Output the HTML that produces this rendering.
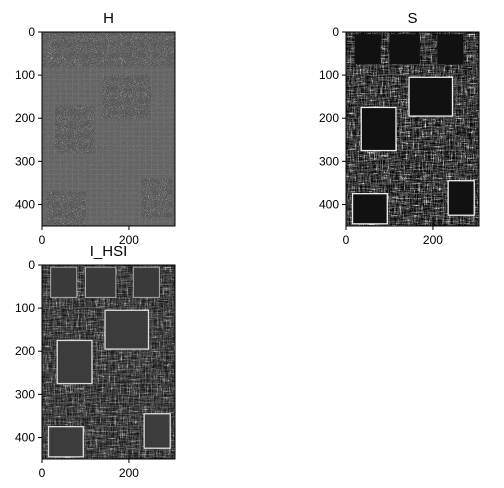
<!DOCTYPE html>
<html><head><meta charset="utf-8"><style>
body{margin:0;background:#fff;}
svg text{font-family:"Liberation Sans","DejaVu Sans",sans-serif;fill:#000;}
filter{color-interpolation-filters:sRGB;}
</style></head><body>
<svg id="fig" width="504" height="483" viewBox="0 0 504 483" xmlns="http://www.w3.org/2000/svg">
<defs>
<filter id="nz" x="0" y="0" width="100%" height="100%" color-interpolation-filters="sRGB">
<feTurbulence type="fractalNoise" baseFrequency="0.9" numOctaves="2" seed="3"/>
<feColorMatrix type="saturate" values="0"/>
<feComponentTransfer><feFuncR type="discrete" tableValues="0.2 0.25 0.3 0.35 0.55 1 1"/><feFuncG type="discrete" tableValues="0.2 0.25 0.3 0.35 0.55 1 1"/><feFuncB type="discrete" tableValues="0.2 0.25 0.3 0.35 0.55 1 1"/><feFuncA type="table" tableValues="1 1"/></feComponentTransfer>
</filter>
<filter id="nzH" x="0" y="0" width="100%" height="100%" color-interpolation-filters="sRGB">
<feTurbulence type="fractalNoise" baseFrequency="0.6" numOctaves="2" seed="11"/>
<feColorMatrix type="saturate" values="0"/>
<feComponentTransfer><feFuncR type="discrete" tableValues="0.2 0.3 0.36 0.4 0.42 0.5 0.8"/><feFuncG type="discrete" tableValues="0.2 0.3 0.36 0.4 0.42 0.5 0.8"/><feFuncB type="discrete" tableValues="0.2 0.3 0.36 0.4 0.42 0.5 0.8"/><feFuncA type="table" tableValues="1 1"/></feComponentTransfer>
</filter>
<filter id="lines" x="0" y="0" width="100%" height="100%" color-interpolation-filters="sRGB">
<feTurbulence type="fractalNoise" baseFrequency="0.04 0.5" numOctaves="2" seed="5" result="a"/>
<feTurbulence type="fractalNoise" baseFrequency="0.5 0.04" numOctaves="2" seed="9" result="b"/>
<feBlend in="a" in2="b" mode="lighten"/>
<feColorMatrix type="saturate" values="0"/>
<feComponentTransfer><feFuncR type="discrete" tableValues="0 0 0 0.05 0.3 0.8 1 1"/><feFuncG type="discrete" tableValues="0 0 0 0.05 0.3 0.8 1 1"/><feFuncB type="discrete" tableValues="0 0 0 0.05 0.3 0.8 1 1"/><feFuncA type="table" tableValues="1 1"/></feComponentTransfer>
</filter>
<pattern id="grid" width="14" height="11" patternUnits="userSpaceOnUse"><rect width="14" height="11" fill="none" stroke="#fff" stroke-width="1.2"/></pattern>
</defs>
<g id="panels"></g>
</svg>
<script>
const NS='http://www.w3.org/2000/svg';
const titles=['H','S','I_HSI'];
const xTicks=[0,200];
const yTicks=[0,100,200,300,400];
const imgW=306, imgH=450;
const boxes=[{l:42,t:32},{l:346,t:32},{l:42,t:265}];
const pw=133, ph=194;
const root=document.getElementById('panels');
function mk(tag,attrs,parent){const e=document.createElementNS(NS,tag);for(const k in attrs)e.setAttribute(k,attrs[k]);parent.appendChild(e);return e;}
const chips=[[140,100,110,100],[30,170,90,110],[10,370,90,80],[230,340,70,90]];
const topRow=[[20,5,60,70],[100,5,70,70],[210,5,60,70]];
boxes.forEach((b,i)=>{
  const g=mk('g',{},root);
  
  
  const sx=v=>b.l+v*pw/imgW, sy=v=>b.t+v*ph/imgH;
  const img=mk('svg',{x:b.l,y:b.t,width:pw,height:ph,viewBox:`0 0 ${imgW} ${imgH}`,preserveAspectRatio:'none'},g);
  
  
  if(i===0){
    mk('rect',{width:imgW,height:imgH,fill:'#666',filter:'url(#nzH)'},img);
    mk('rect',{width:imgW,height:imgH,fill:'url(#grid)',opacity:0.1},img);
    chips.concat([[0,0,306,80]]).forEach(c=>mk('rect',{x:c[0],y:c[1],width:c[2],height:c[3],fill:'#555',filter:'url(#nz)',opacity:0.8},img));
  } else if(i===1){
    mk('rect',{width:imgW,height:imgH,fill:'#000',filter:'url(#lines)'},img);
    mk('rect',{width:imgW,height:imgH,fill:'url(#grid)',opacity:0.2},img);
    chips.forEach(c=>mk('rect',{x:c[0]+5,y:c[1]+5,width:c[2]-10,height:c[3]-10,fill:'#111',stroke:'#eee','stroke-width':3},img));
    topRow.forEach(c=>mk('rect',{x:c[0],y:c[1],width:c[2],height:c[3],fill:'#111'},img));
  } else {
    mk('rect',{width:imgW,height:imgH,fill:'#000',filter:'url(#lines)'},img);
    mk('rect',{width:imgW,height:imgH,fill:'#444',opacity:0.3},img);
    mk('rect',{width:imgW,height:imgH,fill:'url(#grid)',opacity:0.2},img);
    chips.forEach(c=>mk('rect',{x:c[0]+5,y:c[1]+5,width:c[2]-10,height:c[3]-10,fill:'#3c3c3c',stroke:'#ddd','stroke-width':3},img));
    topRow.forEach(c=>mk('rect',{x:c[0],y:c[1],width:c[2],height:c[3],fill:'#3a3a3a',stroke:'#bbb','stroke-width':2},img));
  }
  mk('rect',{x:b.l,y:b.t,width:pw,height:ph,fill:'none',stroke:'#000','stroke-width':1},g);
  const t=mk('text',{x:b.l+pw/2,y:b.t-9,'text-anchor':'middle','font-size':15},g);t.textContent=titles[i];
  
  xTicks.forEach(v=>{const x=sx(v);mk('line',{x1:x,x2:x,y1:b.t+ph,y2:b.t+ph+4,stroke:'#000'},g);
    const tx=mk('text',{x:x,y:b.t+ph+18,'text-anchor':'middle','font-size':12},g);tx.textContent=v;
    });
  yTicks.forEach(v=>{const y=sy(v);mk('line',{x1:b.l-4,x2:b.l,y1:y,y2:y,stroke:'#000'},g);
    const ty=mk('text',{x:b.l-7,y:y+4,'text-anchor':'end','font-size':12},g);ty.textContent=v;
    });
});
</script>
</body></html>
